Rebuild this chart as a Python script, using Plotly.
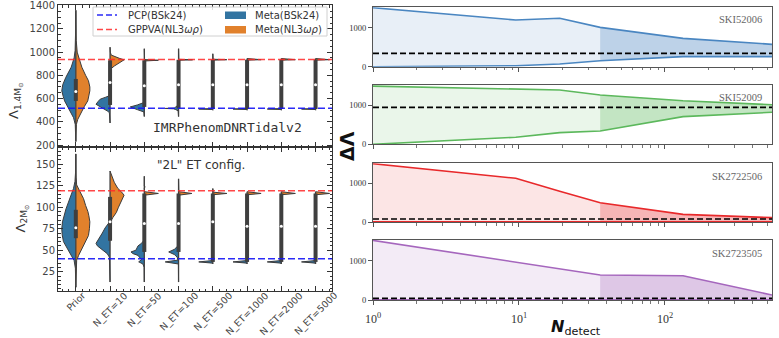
import math
import plotly.graph_objects as go

FIG_W, FIG_H = 779, 338

# ---------------------------------------------------------------- left: split violins
categories = ["Prior", "N_ET=10", "N_ET=50", "N_ET=100", "N_ET=500",
              "N_ET=1000", "N_ET=2000", "N_ET=5000"]

# Lambda_1.4Msun : KDE grid values (y) and relative density (d), Meta(BSk24)
l14_bsk_y = [
    [230, 300, 377, 435, 493, 530, 580, 620, 667, 720, 783, 870, 950, 1015, 1100, 1200, 1360],
    [390, 440, 478, 490, 510, 530, 551, 575, 595, 610, 623, 650, 700],
    [445, 485, 505, 528, 545, 565, 590],
    [445, 495, 505, 512, 515, 518, 528, 545, 560],
    [500, 506, 510, 514, 530],
    [500, 506, 510, 514, 530],
    [500, 506, 510, 514, 530],
    [500, 506, 510, 514, 530],
]
l14_bsk_d = [
    [0, 0.01, 0.04, 0.16, 0.4, 0.55, 0.8, 0.9, 1.0, 0.93, 0.71, 0.33, 0.12, 0.05, 0.02, 0.01, 0],
    [0, 0.02, 0.05, 0.15, 0.42, 0.7, 1.0, 0.85, 0.7, 0.35, 0.08, 0.02, 0],
    [0, 0.03, 0.5, 1.0, 0.5, 0.05, 0],
    [0, 0.03, 0.2, 0.35, 0.95, 0.3, 0.2, 0.03, 0],
    [0, 0.02, 1.0, 0.02, 0],
    [0, 0.02, 1.0, 0.02, 0],
    [0, 0.02, 1.0, 0.02, 0],
    [0, 0.02, 1.0, 0.02, 0],
]
# Lambda_1.4Msun, Meta(NL3wr)
l14_nl3_y = [
    [230, 300, 377, 421, 493, 530, 580, 620, 667, 700, 754, 800, 870, 940, 1000, 1100, 1200, 1360],
    [830, 856, 880, 905, 925, 934, 945, 960, 975, 1000, 1043],
    [900, 924, 930, 936, 1030],
    [900, 930, 934, 938, 1030],
    [900, 931, 935, 939, 986],
    [900, 931, 935, 939, 945],
    [900, 931, 935, 939, 945],
    [900, 931, 935, 939, 945],
]
l14_nl3_d = [
    [0, 0.01, 0.04, 0.14, 0.42, 0.6, 0.85, 0.93, 1.0, 1.0, 0.9, 0.7, 0.43, 0.25, 0.1, 0.03, 0.01, 0],
    [0, 0.05, 0.3, 0.6, 0.85, 1.0, 0.7, 0.35, 0.08, 0.02, 0],
    [0, 0.02, 1.0, 0.02, 0],
    [0, 0.02, 1.0, 0.02, 0],
    [0, 0.02, 1.0, 0.02, 0],
    [0, 0.02, 1.0, 0.02, 0],
    [0, 0.02, 1.0, 0.02, 0],
    [0, 0.02, 1.0, 0.02, 0],
]
l14_q1 = [580, 545, 528, 515, 510, 510, 510, 510]
l14_q3 = [769, 930, 930, 934, 935, 935, 935, 935]
l14_med = [660, 739, 710, 720, 720, 720, 720, 720]
l14_pcp = 516
l14_gppva = 937

# Lambda_2Msun, Meta(BSk24)
l2_bsk_y = [
    [7, 20, 29, 38, 48, 60, 68, 75, 83, 91, 98, 106, 114, 122, 130, 140, 162],
    [13, 35, 42, 46, 49, 52, 55, 58, 61, 65, 70, 76, 80, 83, 88],
    [13, 30, 34, 36.5, 39, 42, 44, 46, 48, 50, 52, 55, 58, 62],
    [13, 34, 36.4, 38.5, 42, 45, 48, 51, 55, 60],
    [34, 35, 36.4, 38, 40],
    [34, 35, 36.4, 38, 40],
    [34, 35, 36.4, 38, 40],
    [34, 35, 36.4, 38, 40],
]
l2_bsk_d = [
    [0, 0.01, 0.03, 0.12, 0.48, 0.88, 0.97, 1.0, 0.95, 0.83, 0.7, 0.52, 0.33, 0.16, 0.06, 0.02, 0],
    [0, 0.01, 0.05, 0.2, 0.45, 0.72, 0.9, 1.0, 0.88, 0.72, 0.55, 0.35, 0.15, 0.03, 0],
    [0, 0.01, 0.1, 0.4, 0.2, 0.35, 0.45, 0.8, 0.95, 0.6, 0.55, 0.45, 0.2, 0],
    [0, 0.01, 0.95, 0.05, 0.1, 0.3, 0.7, 0.3, 0.05, 0],
    [0, 0.02, 1.0, 0.02, 0],
    [0, 0.02, 1.0, 0.02, 0],
    [0, 0.02, 1.0, 0.02, 0],
    [0, 0.02, 1.0, 0.02, 0],
]
# Lambda_2Msun, Meta(NL3wr)
l2_nl3_y = [
    [7, 25, 33, 38, 44, 50, 56, 62, 67, 75, 83, 90, 95, 102, 110, 118, 126, 135, 162],
    [80, 83, 88, 94, 100, 106, 110, 114, 118, 122, 129, 137, 142],
    [112, 114, 116, 118, 122, 123.6, 125, 136],
    [112, 114, 116, 118, 133],
    [112, 114.5, 116, 117.5, 121.7],
    [112, 114.5, 116, 117.5, 118],
    [112, 114.5, 116, 117.5, 118],
    [112, 114.5, 116, 117.5, 118],
]
l2_nl3_d = [
    [0, 0.01, 0.03, 0.06, 0.2, 0.38, 0.55, 0.75, 0.9, 0.97, 1.0, 0.93, 0.86, 0.7, 0.55, 0.3, 0.06, 0.02, 0],
    [0, 0.03, 0.2, 0.45, 0.6, 0.78, 0.9, 1.0, 0.8, 0.55, 0.3, 0.12, 0],
    [0, 0.02, 1.0, 0.02, 0, 0.05, 0, 0],
    [0, 0.02, 0.95, 0.02, 0],
    [0, 0.02, 1.0, 0.02, 0],
    [0, 0.02, 1.0, 0.02, 0],
    [0, 0.02, 1.0, 0.02, 0],
    [0, 0.02, 1.0, 0.02, 0],
]
l2_q1 = [64, 61, 48, 48, 36.4, 36.4, 36.4, 36.4]
l2_q3 = [97, 112, 116, 116, 116, 116, 116, 116]
l2_med = [76, 83, 81, 81, 83, 78, 78, 78]
l2_pcp = 40
l2_gppva = 119

# ---------------------------------------------------------------- right: Delta Lambda vs N_detect
n_detect = [1, 9.5, 19, 36, 133, 541]
n_split = 36
eos_labels = ["SKI52006", "SKI52009", "SK2722506", "SK2723505"]
dl_hi_ski52006 = [1510, 1195, 1238, 1006, 726, 572]
dl_lo_ski52006 = [0, 26, 69, 154, 257, 257]
dl_hi_ski52009 = [1492, 1410, 1392, 1263, 1117, 1015]
dl_lo_ski52009 = [0, 180, 298, 341, 709, 820]
dl_hi_sk2722506 = [1510, 1133, 800, 505, 205, 120]
dl_lo_sk2722506 = [15, 15, 15, 15, 15, 15]
dl_hi_sk2723505 = [1510, 960, 790, 634, 616, 126]
dl_lo_sk2723505 = [8, 8, 8, 8, 8, 8]
dl_ref = [343, 948, 85, 43]

# ---------------------------------------------------------------- styling
BLUE = "#3274a1"
ORANGE = "#e1812c"
OUTLINE = "#3c3c3c"
BOXC = "#3f3f3f"
HALF_W = 0.41
EOS_LINE = ["#4a86c1", "#5cb85c", "#e8292b", "#a566bd"]
EOS_LIGHT = ["rgba(74,134,193,0.13)", "rgba(92,184,92,0.13)",
             "rgba(232,41,43,0.12)", "rgba(165,102,189,0.13)"]
EOS_DARK = ["rgba(74,134,193,0.27)", "rgba(92,184,92,0.27)",
            "rgba(232,41,43,0.25)", "rgba(165,102,189,0.27)"]


def fx(p):
    return p / FIG_W


def fy(p):
    return 1 - p / FIG_H


fig = go.Figure()


def add_half(xa, ya, c, ys, ds, sign, color):
    xs = [c + sign * HALF_W * d for d in ds]
    fig.add_trace(go.Scatter(x=xs, y=ys, xaxis=xa, yaxis=ya, mode="lines",
                             fill="toself", fillcolor=color,
                             line=dict(color=OUTLINE, width=1),
                             hoverinfo="skip", showlegend=False))


def add_box(xa, ya, c, lo, hi, q1, q3, med):
    fig.add_trace(go.Scatter(x=[c, c], y=[lo, hi], xaxis=xa, yaxis=ya, mode="lines",
                             line=dict(color=BOXC, width=1.3), hoverinfo="skip",
                             showlegend=False))
    fig.add_trace(go.Scatter(x=[c, c], y=[q1, q3], xaxis=xa, yaxis=ya, mode="lines",
                             line=dict(color=BOXC, width=4), hoverinfo="skip",
                             showlegend=False))
    fig.add_trace(go.Scatter(x=[c], y=[med], xaxis=xa, yaxis=ya, mode="markers",
                             marker=dict(color="white", size=3), hoverinfo="skip",
                             showlegend=False))


panels = [
    ("x", "y", l14_bsk_y, l14_bsk_d, l14_nl3_y, l14_nl3_d, l14_q1, l14_q3, l14_med),
    ("x2", "y2", l2_bsk_y, l2_bsk_d, l2_nl3_y, l2_nl3_d, l2_q1, l2_q3, l2_med),
]
for xa, ya, by, bd, ny, nd, q1, q3, med in panels:
    for i in range(len(categories)):
        add_half(xa, ya, i, by[i], bd[i], -1, BLUE)
        add_half(xa, ya, i, ny[i], nd[i], +1, ORANGE)
        lo = min(min(by[i]), min(ny[i]))
        hi = max(max(by[i]), max(ny[i]))
        add_box(xa, ya, i, lo, hi, q1[i], q3[i], med[i])

# reference lines on the left panels
shapes = []
for yref, pcp, gpp in [("y", l14_pcp, l14_gppva), ("y2", l2_pcp, l2_gppva)]:
    xr = "x domain" if yref == "y" else "x2 domain"
    shapes.append(dict(type="line", xref=xr, yref=yref, x0=0, x1=1, y0=pcp, y1=pcp,
                       line=dict(color="rgba(20,20,245,0.9)", width=1.5, dash="7px,3px")))
    shapes.append(dict(type="line", xref=xr, yref=yref, x0=0, x1=1, y0=gpp, y1=gpp,
                       line=dict(color="rgba(255,40,40,0.85)", width=1.5, dash="7px,3px")))

# right panels: bands of Delta Lambda
right_hi = [dl_hi_ski52006, dl_hi_ski52009, dl_hi_sk2722506, dl_hi_sk2723505]
right_lo = [dl_lo_ski52006, dl_lo_ski52009, dl_lo_sk2722506, dl_lo_sk2723505]
for k in range(4):
    xa, ya = f"x{k + 3}", f"y{k + 3}"
    hi, lo = right_hi[k], right_lo[k]
    # whole range, light band
    fig.add_trace(go.Scatter(x=n_detect, y=lo, xaxis=xa, yaxis=ya, mode="lines",
                             line=dict(width=0), hoverinfo="skip", showlegend=False))
    fig.add_trace(go.Scatter(x=n_detect, y=hi, xaxis=xa, yaxis=ya, mode="lines",
                             fill="tonexty", fillcolor=EOS_LIGHT[k],
                             line=dict(width=0), hoverinfo="skip", showlegend=False))
    # beyond the split, darker band
    idx = [j for j, n in enumerate(n_detect) if n >= n_split]
    fig.add_trace(go.Scatter(x=[n_detect[j] for j in idx], y=[lo[j] for j in idx],
                             xaxis=xa, yaxis=ya, mode="lines", line=dict(width=0),
                             hoverinfo="skip", showlegend=False))
    fig.add_trace(go.Scatter(x=[n_detect[j] for j in idx], y=[hi[j] for j in idx],
                             xaxis=xa, yaxis=ya, mode="lines", fill="tonexty",
                             fillcolor=EOS_DARK[k], line=dict(width=0),
                             hoverinfo="skip", showlegend=False))
    for arr in (lo, hi):
        fig.add_trace(go.Scatter(x=n_detect, y=arr, xaxis=xa, yaxis=ya, mode="lines",
                                 line=dict(color=EOS_LINE[k], width=1.6),
                                 hoverinfo="skip", showlegend=False))
    shapes.append(dict(type="line", xref=f"x{k + 3} domain", yref=ya, x0=0, x1=1,
                       y0=dl_ref[k], y1=dl_ref[k],
                       line=dict(color="black", width=1.7, dash="6px,3px")))

# legend drawn inside the upper-left panel
shapes.append(dict(type="rect", xref="paper", yref="paper", x0=fx(93), x1=fx(327),
                   y0=fy(36), y1=fy(7), line=dict(color="#d0d0d0", width=1),
                   fillcolor="rgba(255,255,255,0.85)"))
shapes.append(dict(type="line", xref="paper", yref="paper", x0=fx(97), x1=fx(117),
                   y0=fy(15), y1=fy(15),
                   line=dict(color="rgba(20,20,245,0.9)", width=1.5, dash="6px,3px")))
shapes.append(dict(type="line", xref="paper", yref="paper", x0=fx(97), x1=fx(117),
                   y0=fy(29.5), y1=fy(29.5),
                   line=dict(color="rgba(255,40,40,0.85)", width=1.5, dash="6px,3px")))
shapes.append(dict(type="rect", xref="paper", yref="paper", x0=fx(225), x1=fx(246),
                   y0=fy(19), y1=fy(11.5), line=dict(width=0), fillcolor=BLUE))
shapes.append(dict(type="rect", xref="paper", yref="paper", x0=fx(225), x1=fx(246),
                   y0=fy(33.5), y1=fy(26), line=dict(width=0), fillcolor=ORANGE))

ann = []
leg_font = dict(family="DejaVu Sans", size=10, color="#333")
for text, x, y in [("PCP(BSk24)", 126, 15), ("GPPVA(NL3<i>ωρ</i>)", 126, 29.5),
                   ("Meta(BSk24)", 253, 15), ("Meta(NL3<i>ωρ</i>)", 253, 29.5)]:
    ann.append(dict(text=text, x=fx(x), y=fy(y), xref="paper", yref="paper",
                    xanchor="left", yanchor="middle", showarrow=False, font=leg_font))

# rotated category labels, centred under each tick
for i, cat in enumerate(categories):
    ann.append(dict(text=cat, x=i, y=fy(287), xref="x2", yref="paper",
                    xanchor="center", yanchor="top", textangle=-45, showarrow=False,
                    font=dict(family="DejaVu Sans", size=9.5, color="#444")))

ann.append(dict(text="IMRPhenomDNRTidalv2", x=fx(227), y=fy(128), xref="paper",
                yref="paper", xanchor="center", yanchor="middle", showarrow=False,
                font=dict(family="DejaVu Sans Mono", size=13, color="#333")))
ann.append(dict(text='"2L" ET config.', x=fx(201), y=fy(165), xref="paper",
                yref="paper", xanchor="center", yanchor="middle", showarrow=False,
                font=dict(family="DejaVu Sans", size=12, color="#333")))
ann.append(dict(text="Λ<sub>1.4M<sub>⊙</sub></sub>", x=fx(4), y=fy(80), xref="paper",
                yref="paper", textangle=-90, showarrow=False,
                font=dict(family="DejaVu Sans", size=13, color="#333")))
ann.append(dict(text="Λ<sub>2M<sub>⊙</sub></sub>", x=fx(10), y=fy(219), xref="paper",
                yref="paper", textangle=-90, showarrow=False,
                font=dict(family="DejaVu Sans", size=13, color="#333")))

label_y = [20, 98, 176, 254]
for k in range(4):
    ann.append(dict(text=eos_labels[k], x=fx(764), y=fy(label_y[k]), xref="paper",
                    yref="paper", xanchor="right", yanchor="middle", showarrow=False,
                    font=dict(family="Liberation Serif", size=10.5, color="#666")))
ann.append(dict(text="<b>ΔΛ</b>", x=fx(347), y=fy(146), xref="paper", yref="paper",
                textangle=-90, showarrow=False,
                font=dict(family="DejaVu Sans", size=19, color="#111")))
ann.append(dict(text="<b><i>N</i></b><sub>detect</sub>", x=fx(549), y=fy(327),
                xref="paper", yref="paper", xanchor="left", yanchor="middle",
                showarrow=False, font=dict(family="DejaVu Sans", size=16, color="#111")))

# ---------------------------------------------------------------- axes
left_common = dict(showline=True, linecolor="#333", linewidth=1, mirror="allticks",
                   ticks="inside", ticklen=5, tickcolor="#333", showgrid=False,
                   zeroline=False, automargin=False,
                   tickfont=dict(family="DejaVu Sans", size=10, color="#444"))
xr_left = [-0.52, 7.48]
layout_axes = dict(
    xaxis=dict(domain=[fx(58), fx(332)], anchor="y", range=xr_left, tickmode="array",
               tickvals=list(range(8)), showticklabels=False,
               minor=dict(ticks="inside", ticklen=2.5, dtick=0.2, tick0=0,
                          tickcolor="#333"), **left_common),
    yaxis=dict(domain=[fy(147), fy(5)], anchor="x", range=[183, 1406], tick0=0,
               dtick=200, minor=dict(ticks="inside", ticklen=2.5, dtick=50, tick0=0,
                                     tickcolor="#333"), **left_common),
    xaxis2=dict(domain=[fx(58), fx(332)], anchor="y2", range=xr_left, tickmode="array",
                tickvals=list(range(8)), showticklabels=False,
                minor=dict(ticks="inside", ticklen=2.5, dtick=0.2, tick0=0,
                           tickcolor="#333"), **left_common),
    yaxis2=dict(domain=[fy(291), fy(147)], anchor="x2", range=[2.6, 170], tick0=0,
                dtick=25, minor=dict(ticks="inside", ticklen=2.5, dtick=5, tick0=0,
                                     tickcolor="#333"), **left_common),
)

right_y = [(66.7, 7.3), (144.3, 85), (222.3, 163.3), (300, 240)]
minor_vals = [m * 10 ** e for e in range(3) for m in range(2, 10) if m * 10 ** e < 541]
for k in range(4):
    layout_axes[f"xaxis{k + 3}"] = dict(
        domain=[fx(373), fx(772)], anchor=f"y{k + 3}", type="log",
        range=[0, math.log10(541)], showline=True, linecolor="#555", linewidth=1,
        mirror=True, ticks="outside", ticklen=4, tickcolor="#555", showgrid=False,
        zeroline=False, automargin=False, tickmode="array", tickvals=[1, 10, 100],
        ticktext=["10<sup>0</sup>", "10<sup>1</sup>", "10<sup>2</sup>"],
        showticklabels=(k == 3), ticklabelstandoff=4,
        tickfont=dict(family="Liberation Serif", size=12, color="#333"),
        minor=dict(ticks="outside", ticklen=2.5, tickcolor="#777", tickmode="array",
                   tickvals=minor_vals))
    layout_axes[f"yaxis{k + 3}"] = dict(
        domain=[fy(right_y[k][0]), fy(right_y[k][1])], anchor=f"x{k + 3}",
        range=[0, 1520], tickmode="array", tickvals=[0, 1000], showline=True,
        linecolor="#555", linewidth=1, mirror=True, ticks="outside", ticklen=4,
        tickcolor="#555", showgrid=False, zeroline=False, automargin=False,
        tickfont=dict(family="Liberation Serif", size=8.5, color="#333"))

fig.update_layout(width=FIG_W, height=FIG_H, margin=dict(l=0, r=0, t=0, b=0),
                  paper_bgcolor="white", plot_bgcolor="white", showlegend=False,
                  shapes=shapes, annotations=ann, **layout_axes)

fig.write_html("out.html")
